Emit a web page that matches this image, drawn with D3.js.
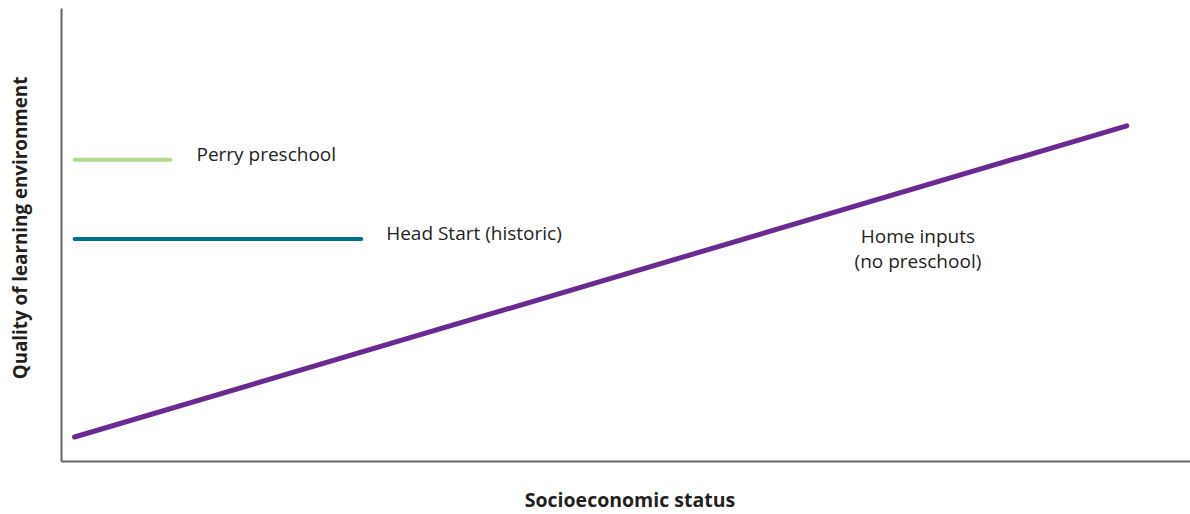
<!DOCTYPE html>
<html>
<head>
<meta charset="utf-8">
<script src="https://cdn.jsdelivr.net/npm/d3@7"></script>
<style>
  body { margin: 0; background: #fff; }
  text { font-family: "Open Sans", sans-serif; fill: #231f20; }
  .axis path { stroke: #666; stroke-width: 2; }
</style>
</head>
<body>
<script>
// arbitrary units (0-100 on both axes)
var homeInputs = [{x: 1.2, y: 5.3}, {x: 94.4, y: 74.0}];
var perry = [{x: 1.2, y: 66.5}, {x: 9.7, y: 66.5}];
var headStart = [{x: 1.2, y: 49.0}, {x: 26.6, y: 49.0}];

var seriesNames = ["Perry preschool", "Head Start (historic)", "Home inputs", "(no preschool)"];
var xTitle = "Socioeconomic status";
var yTitle = "Quality of learning environment";

var W = 1190, H = 514;
var margin = {top: 8, right: 0, bottom: 53, left: 61};

var x = d3.scaleLinear().domain([0, 100]).range([margin.left, W - margin.right]);
var y = d3.scaleLinear().domain([0, 100]).range([H - margin.bottom, margin.top]);

var svg = d3.select("body").append("svg")
    .attr("width", W)
    .attr("height", H);

svg.append("g")
    .attr("class", "axis")
    .attr("transform", "translate(0," + (H - margin.bottom) + ")")
    .call(d3.axisBottom(x).tickValues([]).tickSizeOuter(0));

svg.append("g")
    .attr("class", "axis")
    .attr("transform", "translate(" + margin.left + ",0)")
    .call(d3.axisLeft(y).tickValues([]).tickSizeOuter(0));

var line = d3.line().x(d => x(d.x)).y(d => y(d.y));

var series = [
  {data: perry, color: "#b3da8c", width: 4},
  {data: headStart, color: "#00718f", width: 4},
  {data: homeInputs, color: "#6b2a92", width: 5}
];

svg.selectAll(".series")
    .data(series)
  .enter().append("path")
    .attr("class", "series")
    .attr("d", d => line(d.data))
    .attr("fill", "none")
    .attr("stroke", d => d.color)
    .attr("stroke-width", d => d.width)
    .attr("stroke-linecap", "round");

// labels
var fs = 19;
svg.append("text")
    .attr("x", x(12.0))
    .attr("y", y(66.5) + 1)
    .attr("font-size", fs)
    .text(seriesNames[0]);

svg.append("text")
    .attr("x", x(28.8))
    .attr("y", y(49.0) + 1)
    .attr("font-size", fs)
    .text(seriesNames[1]);

svg.append("text")
    .attr("x", x(75.9))
    .attr("y", y(49.0) + 4)
    .attr("font-size", fs)
    .attr("text-anchor", "middle")
    .text(seriesNames[2]);

svg.append("text")
    .attr("x", x(75.9))
    .attr("y", y(49.0) + 29)
    .attr("font-size", fs)
    .attr("text-anchor", "middle")
    .text(seriesNames[3]);

svg.append("text")
    .attr("x", 630)
    .attr("y", 507)
    .attr("font-size", 19.5)
    .attr("font-weight", "bold")
    .attr("text-anchor", "middle")
    .text(xTitle);

svg.append("text")
    .attr("transform", "translate(27,228) rotate(-90)")
    .attr("font-size", 18.8)
    .attr("font-weight", "bold")
    .attr("text-anchor", "middle")
    .text(yTitle);
</script>
</body>
</html>
